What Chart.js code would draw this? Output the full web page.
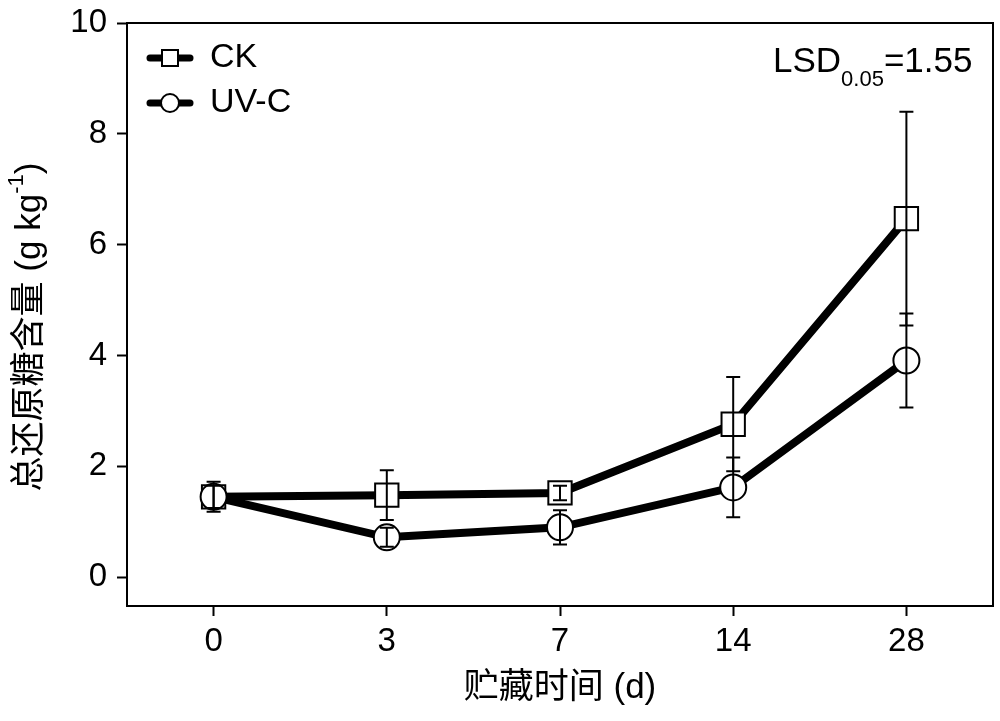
<!DOCTYPE html>
<html>
<head>
<meta charset="utf-8">
<script src="https://cdn.jsdelivr.net/npm/chart.js@4/dist/chart.umd.min.js"></script>
<style>
  body { margin: 0; background: #fff; }
  #wrap { width: 1000px; height: 721px; }
  canvas { display: block; }
</style>
</head>
<body>
<div id="wrap"><canvas id="sugarChart" width="1000" height="721"></canvas></div>
<script>
// 数値は図から読み取った推定値
const days = ['0', '3', '7', '14', '28'];
const ckValues = [1.45, 1.48, 1.52, 2.76, 6.47];
const ckErrors = [0.20, 0.45, 0.13, 0.85, 1.93];
const uvValues = [1.45, 0.72, 0.90, 1.62, 3.91];
const uvErrors = [0.27, 0.17, 0.31, 0.54, 0.85];
const yTicks = [0, 2, 4, 6, 8, 10];
const seriesNames = ['CK', 'UV-C'];
const lsdText = ['LSD', '0.05', '=1.55'];
const yTitle = ['总还原糖含量 (g kg', '-1', ')'];
const xTitle = '贮藏时间 (d)';

const FONT = "'Liberation Sans', 'Noto Sans CJK SC', sans-serif";

// エラーバー
const errorBars = {
  id: 'errorBars',
  afterDatasetsDraw(chart) {
    const ctx = chart.ctx;
    const yScale = chart.scales.y;
    ctx.save();
    ctx.strokeStyle = '#000';
    ctx.lineWidth = 2;
    chart.data.datasets.forEach((ds, di) => {
      const meta = chart.getDatasetMeta(di);
      ds.data.forEach((v, i) => {
        const x = meta.data[i].x;
        const top = yScale.getPixelForValue(v + ds.errors[i]);
        const bot = yScale.getPixelForValue(v - ds.errors[i]);
        ctx.beginPath();
        ctx.moveTo(x, top); ctx.lineTo(x, bot);
        ctx.moveTo(x - 7, top); ctx.lineTo(x + 7, top);
        ctx.moveTo(x - 7, bot); ctx.lineTo(x + 7, bot);
        ctx.stroke();
      });
    });
    ctx.restore();
  }
};

// 枠・凡例・注記
const decorations = {
  id: 'decorations',
  afterDraw(chart) {
    const ctx = chart.ctx;
    const area = chart.chartArea;
    ctx.save();

    // 上と右の枠線
    ctx.strokeStyle = '#000';
    ctx.lineWidth = 2;
    ctx.beginPath();
    ctx.moveTo(area.left, area.top);
    ctx.lineTo(area.right, area.top);
    ctx.lineTo(area.right, area.bottom);
    ctx.stroke();

    // 凡例
    const rows = [
      { y: 58, style: 'rect', label: seriesNames[0] },
      { y: 103, style: 'circle', label: seriesNames[1] }
    ];
    rows.forEach(r => {
      ctx.lineWidth = 7;
      ctx.lineCap = 'round';
      ctx.beginPath();
      ctx.moveTo(150, r.y); ctx.lineTo(190, r.y);
      ctx.stroke();
      ctx.lineCap = 'butt';
      ctx.lineWidth = 2;
      ctx.fillStyle = '#fff';
      ctx.beginPath();
      if (r.style === 'rect') {
        ctx.rect(162, r.y - 8, 16, 16);
      } else {
        ctx.arc(170, r.y, 9, 0, Math.PI * 2);
      }
      ctx.fill();
      ctx.stroke();
      ctx.fillStyle = '#000';
      ctx.font = '34px ' + FONT;
      ctx.textAlign = 'left';
      ctx.textBaseline = 'middle';
      ctx.fillText(r.label, 210, r.y);
    });

    // LSD
    ctx.textBaseline = 'alphabetic';
    ctx.font = '35px ' + FONT;
    let x = 773;
    ctx.fillText(lsdText[0], x, 72);
    x += ctx.measureText(lsdText[0]).width;
    ctx.font = '22px ' + FONT;
    ctx.fillText(lsdText[1], x, 86);
    x += ctx.measureText(lsdText[1]).width;
    ctx.font = '35px ' + FONT;
    ctx.fillText(lsdText[2], x, 72);

    // 縦軸タイトル
    ctx.translate(30, 327);
    ctx.rotate(-Math.PI / 2);
    ctx.font = '35px ' + FONT;
    const w0 = ctx.measureText(yTitle[0]).width;
    ctx.font = '22px ' + FONT;
    const w1 = ctx.measureText(yTitle[1]).width;
    ctx.font = '35px ' + FONT;
    const w2 = ctx.measureText(yTitle[2]).width;
    let tx = -(w0 + w1 + w2) / 2;
    ctx.textBaseline = 'middle';
    ctx.fillText(yTitle[0], tx, 0);
    tx += w0;
    ctx.font = '22px ' + FONT;
    ctx.fillText(yTitle[1], tx, -13);
    tx += w1;
    ctx.font = '35px ' + FONT;
    ctx.fillText(yTitle[2], tx, 0);

    ctx.restore();
  }
};

const ctx = document.getElementById('sugarChart').getContext('2d');
new Chart(ctx, {
  type: 'line',
  data: {
    labels: days,
    datasets: [
      {
        label: seriesNames[0],
        data: ckValues,
        errors: ckErrors,
        order: 1,
        borderColor: '#000',
        borderWidth: 8,
        pointStyle: 'rect',
        pointRadius: 16.5,
        pointBorderWidth: 2,
        pointBorderColor: '#000',
        pointBackgroundColor: '#fff',
        tension: 0
      },
      {
        label: seriesNames[1],
        data: uvValues,
        errors: uvErrors,
        order: 0,
        borderColor: '#000',
        borderWidth: 8,
        pointStyle: 'circle',
        pointRadius: 13,
        pointBorderWidth: 2,
        pointBorderColor: '#000',
        pointBackgroundColor: '#fff',
        tension: 0
      }
    ]
  },
  options: {
    responsive: false,
    animation: false,
    layout: { autoPadding: false, padding: { top: 23, right: 7, left: 0, bottom: 0 } },
    plugins: {
      legend: { display: false },
      tooltip: { enabled: false }
    },
    scales: {
      x: {
        type: 'category',
        offset: true,
        grid: { drawOnChartArea: false, drawTicks: true, tickLength: 10, tickWidth: 2, tickColor: '#000', offset: false },
        border: { color: '#000', width: 2 },
        ticks: { color: '#000', font: { family: FONT, size: 33 }, padding: 6, maxRotation: 0 },
        title: { display: true, text: xTitle, color: '#000', font: { family: FONT, size: 35 }, padding: { top: 0, bottom: 12 } },
        afterFit: s => { s.height = 115; s.paddingLeft = 0; s.paddingRight = 0; }
      },
      y: {
        min: -0.52,
        max: 10,
        afterBuildTicks: s => { s.ticks = yTicks.map(v => ({ value: v })); },
        grid: { drawOnChartArea: false, drawTicks: true, tickLength: 10, tickWidth: 2, tickColor: '#000' },
        border: { color: '#000', width: 2 },
        ticks: { color: '#000', font: { family: FONT, size: 33 }, padding: 10 },
        afterFit: s => { s.width = 127; s.paddingTop = 0; s.paddingBottom = 0; }
      }
    }
  },
  plugins: [errorBars, decorations]
});
</script>
</body>
</html>
